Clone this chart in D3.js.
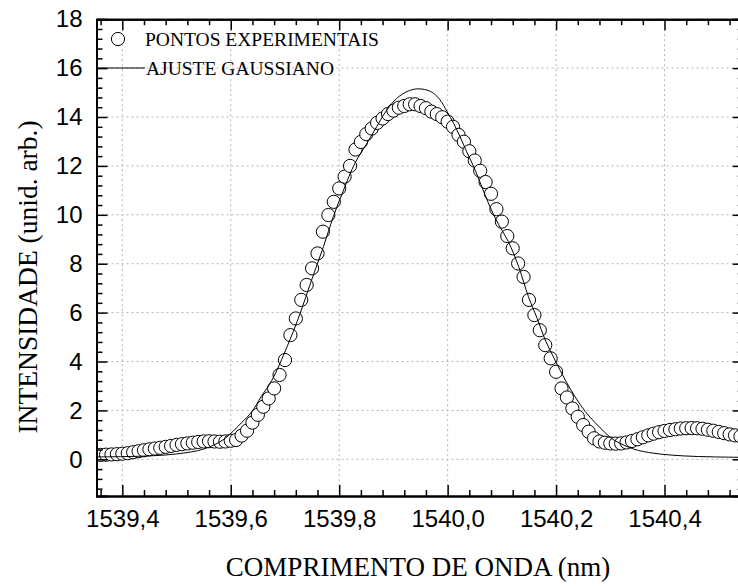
<!DOCTYPE html>
<html>
<head>
<meta charset="utf-8">
<script src="https://cdn.jsdelivr.net/npm/d3@7/dist/d3.min.js"></script>
<style>
  body { margin: 0; background: #fff; }
  svg { display: block; }
</style>
</head>
<body>
<div class="canvas"></div>
<script>

// wavelength (nm) of each experimental point
var pontosX = [1539.36,1539.37,1539.38,1539.39,1539.40,1539.41,1539.42,1539.43,1539.44,1539.45,
  1539.46,1539.47,1539.48,1539.49,1539.50,1539.51,1539.52,1539.53,1539.54,1539.55,
  1539.56,1539.57,1539.58,1539.59,1539.60,1539.61,1539.62,1539.63,1539.64,1539.65,
  1539.66,1539.67,1539.68,1539.69,1539.70,1539.71,1539.72,1539.73,1539.74,1539.75,
  1539.76,1539.77,1539.78,1539.79,1539.80,1539.81,1539.82,1539.83,1539.84,1539.85,
  1539.86,1539.87,1539.88,1539.89,1539.90,1539.91,1539.92,1539.93,1539.94,1539.95,
  1539.96,1539.97,1539.98,1539.99,1540.00,1540.01,1540.02,1540.03,1540.04,1540.05,
  1540.06,1540.07,1540.08,1540.09,1540.10,1540.11,1540.12,1540.13,1540.14,1540.15,
  1540.16,1540.17,1540.18,1540.19,1540.20,1540.21,1540.22,1540.23,1540.24,1540.25,
  1540.26,1540.27,1540.28,1540.29,1540.30,1540.31,1540.32,1540.33,1540.34,1540.35,
  1540.36,1540.37,1540.38,1540.39,1540.40,1540.41,1540.42,1540.43,1540.44,1540.45,
  1540.46,1540.47,1540.48,1540.49,1540.50,1540.51,1540.52,1540.53,1540.54,1540.55];

// intensity of each experimental point
var pontosY = [0.18,0.19,0.20,0.21,0.23,0.25,0.29,0.33,0.37,0.41,
  0.44,0.47,0.51,0.55,0.59,0.62,0.65,0.68,0.71,0.73,
  0.74,0.73,0.72,0.73,0.76,0.79,0.97,1.17,1.50,1.82,
  2.15,2.49,2.90,3.45,4.06,5.08,5.76,6.52,7.13,7.81,
  8.42,9.31,9.99,10.53,11.08,11.56,12.00,12.67,12.98,13.30,
  13.53,13.76,13.94,14.12,14.26,14.38,14.45,14.52,14.52,14.45,
  14.36,14.22,14.12,13.99,13.81,13.60,13.27,12.99,12.60,12.22,
  11.80,11.34,10.86,10.23,9.72,9.13,8.63,8.01,7.46,6.52,
  5.90,5.28,4.67,4.13,3.58,2.90,2.53,2.08,1.74,1.40,
  1.13,0.86,0.73,0.68,0.65,0.64,0.65,0.69,0.75,0.82,
  0.90,0.98,1.05,1.11,1.16,1.20,1.23,1.26,1.27,1.28,
  1.27,1.25,1.21,1.17,1.12,1.07,1.02,0.98,0.94,0.90];

// gaussian fit
var ajusteX = [1539.35,1539.40,1539.45,1539.50,1539.55,1539.586,1539.62,1539.639,1539.656,1539.676,
  1539.704,1539.728,1539.749,1539.771,1539.789,1539.808,1539.829,1539.851,1539.869,1539.888,
  1539.906,1539.925,1539.943,1539.962,1539.974,1539.986,1539.999,1540.011,1540.023,1540.035,
  1540.048,1540.063,1540.078,1540.094,1540.112,1540.131,1540.149,1540.165,1540.180,1540.198,
  1540.217,1540.235,1540.254,1540.272,1540.29,1540.306,1540.343,1540.38,1540.435,1540.49,1540.55];
var ajusteY = [0.10,0.11,0.14,0.22,0.42,0.80,1.50,1.95,2.56,3.24,
  4.61,5.97,7.33,8.70,9.92,11.01,12.11,12.92,13.60,14.29,
  14.76,15.04,15.15,15.10,14.97,14.70,14.22,13.74,13.19,12.58,
  11.97,11.15,10.33,9.60,8.90,7.88,6.65,5.77,4.88,4.06,
  3.24,2.56,1.95,1.50,1.10,0.80,0.42,0.25,0.14,0.10,0.08];

var xTicks = [1539.4, 1539.6, 1539.8, 1540.0, 1540.2, 1540.4];
var yTicks = [0, 2, 4, 6, 8, 10, 12, 14, 16, 18];

var legendLabels = ['PONTOS EXPERIMENTAIS', 'AJUSTE GAUSSIANO'];
var xTitle = 'COMPRIMENTO DE ONDA (nm)';
var yTitle = 'INTENSIDADE (unid. arb.)';

var canvasWidth = 738;
var canvasHeight = 587;

// plot frame (right edge lies just past the picture)
var frameLeft = 96.5, frameRight = 743.7, frameTop = 19.2, frameBottom = 496;

var x = d3.scaleLinear().domain([1539.3524, 1540.546]).range([frameLeft, frameRight]);
var y = d3.scaleLinear().domain([-1.5, 18]).range([frameBottom, frameTop]);

var pt = d3.formatLocale({decimal: ',', thousands: '.', grouping: [3], currency: ['', '']});
var fmtX = pt.format('.1f');

var sansFont = '"Liberation Sans", Arial, sans-serif';
var serifFont = '"Liberation Serif", "Times New Roman", serif';

var svg = d3.select('.canvas')
  .append('svg')
    .attr('width', canvasWidth)
    .attr('height', canvasHeight);

svg.append('defs').append('clipPath')
    .attr('id', 'plotClip')
  .append('rect')
    .attr('x', frameLeft)
    .attr('y', frameTop)
    .attr('width', frameRight - frameLeft)
    .attr('height', frameBottom - frameTop);

// dotted grid
var grid = svg.append('g').attr('class', 'grid');
grid.selectAll('.gx')
  .data(xTicks)
  .enter().append('line')
    .attr('x1', function(d){ return x(d); })
    .attr('x2', function(d){ return x(d); })
    .attr('y1', frameTop)
    .attr('y2', frameBottom)
    .attr('stroke', '#b4b4b4')
    .attr('stroke-dasharray', '2,3');
grid.selectAll('.gy')
  .data(yTicks)
  .enter().append('line')
    .attr('x1', frameLeft)
    .attr('x2', frameRight)
    .attr('y1', function(d){ return y(d); })
    .attr('y2', function(d){ return y(d); })
    .attr('stroke', '#b4b4b4')
    .attr('stroke-dasharray', '2,3');

// points
var pontos = pontosX.map(function(v, i){ return {x: v, y: pontosY[i]}; });
var ajuste = ajusteX.map(function(v, i){ return {x: v, y: ajusteY[i]}; });

var plot = svg.append('g').attr('clip-path', 'url(#plotClip)');

plot.selectAll('circle')
  .data(pontos)
  .enter().append('circle')
    .attr('cx', function(d){ return x(d.x); })
    .attr('cy', function(d){ return y(d.y); })
    .attr('r', 6.6)
    .attr('fill', '#fff')
    .attr('stroke', '#000')
    .attr('stroke-width', 1);

var line = d3.line()
  .x(function(d){ return x(d.x); })
  .y(function(d){ return y(d.y); })
  .curve(d3.curveCatmullRom);

plot.append('path')
  .datum(ajuste)
  .attr('d', line)
  .attr('fill', 'none')
  .attr('stroke', '#000')
  .attr('stroke-width', 1);

// axes, ticks inward on all four sides
var xMinor = d3.range(1539.36, 1540.55, 0.04).filter(function(v){ return Math.abs(Math.round(v * 5) - v * 5) > 0.01; });
var yMinor = d3.range(-1.2, 18, 0.4).filter(function(v){ return Math.abs(Math.round(v / 2) * 2 - v) > 0.01; });

function styleAxis(g){
  g.select('.domain').attr('stroke-width', 2);
  g.selectAll('.tick line').attr('stroke-width', 1.5);
  g.selectAll('text')
    .attr('font-family', sansFont)
    .attr('font-size', 24)
    .attr('fill', '#000');
}

svg.append('g')
  .attr('transform', 'translate(0,' + frameBottom + ')')
  .call(d3.axisBottom(x).tickValues(xTicks).tickFormat(fmtX).tickSize(-11).tickPadding(14))
  .call(styleAxis);
svg.append('g')
  .attr('transform', 'translate(0,' + frameBottom + ')')
  .call(d3.axisBottom(x).tickValues(xMinor).tickFormat('').tickSize(-6).tickSizeOuter(0))
  .call(styleAxis);

svg.append('g')
  .attr('transform', 'translate(0,' + frameTop + ')')
  .call(d3.axisTop(x).tickValues(xTicks).tickFormat('').tickSize(-11))
  .call(styleAxis);
svg.append('g')
  .attr('transform', 'translate(0,' + frameTop + ')')
  .call(d3.axisTop(x).tickValues(xMinor).tickFormat('').tickSize(-6).tickSizeOuter(0))
  .call(styleAxis);

svg.append('g')
  .attr('transform', 'translate(' + frameLeft + ',0)')
  .call(d3.axisLeft(y).tickValues(yTicks).tickFormat(d3.format('d')).tickSize(-11).tickPadding(14))
  .call(styleAxis);
svg.append('g')
  .attr('transform', 'translate(' + frameLeft + ',0)')
  .call(d3.axisLeft(y).tickValues(yMinor).tickFormat('').tickSize(-6).tickSizeOuter(0))
  .call(styleAxis);

svg.append('g')
  .attr('transform', 'translate(' + frameRight + ',0)')
  .call(d3.axisRight(y).tickValues(yTicks).tickFormat('').tickSize(-11))
  .call(styleAxis);
svg.append('g')
  .attr('transform', 'translate(' + frameRight + ',0)')
  .call(d3.axisRight(y).tickValues(yMinor).tickFormat('').tickSize(-6).tickSizeOuter(0))
  .call(styleAxis);

// legend
var legend = svg.append('g');
legend.append('circle')
  .attr('cx', 118)
  .attr('cy', 39)
  .attr('r', 6.6)
  .attr('fill', '#fff')
  .attr('stroke', '#000');
legend.append('line')
  .attr('x1', frameLeft)
  .attr('x2', 145)
  .attr('y1', 68)
  .attr('y2', 68)
  .attr('stroke', '#000');
legend.selectAll('text')
  .data(legendLabels)
  .enter().append('text')
    .attr('x', function(d, i){ return i === 0 ? 145 : 146; })
    .attr('y', function(d, i){ return i === 0 ? 39 : 68; })
    .attr('dy', '0.35em')
    .attr('font-family', serifFont)
    .attr('font-size', 19.5)
    .text(function(d){ return d; });

// axis titles
svg.append('text')
  .attr('x', 418)
  .attr('y', 567)
  .attr('dy', '0.35em')
  .attr('text-anchor', 'middle')
  .attr('font-family', serifFont)
  .attr('font-size', 27)
  .text(xTitle);

svg.append('text')
  .attr('transform', 'translate(27,' + 277 + ') rotate(-90)')
  .attr('dy', '0.35em')
  .attr('text-anchor', 'middle')
  .attr('font-family', serifFont)
  .attr('font-size', 27.5)
  .text(yTitle);

</script>
</body>
</html>
